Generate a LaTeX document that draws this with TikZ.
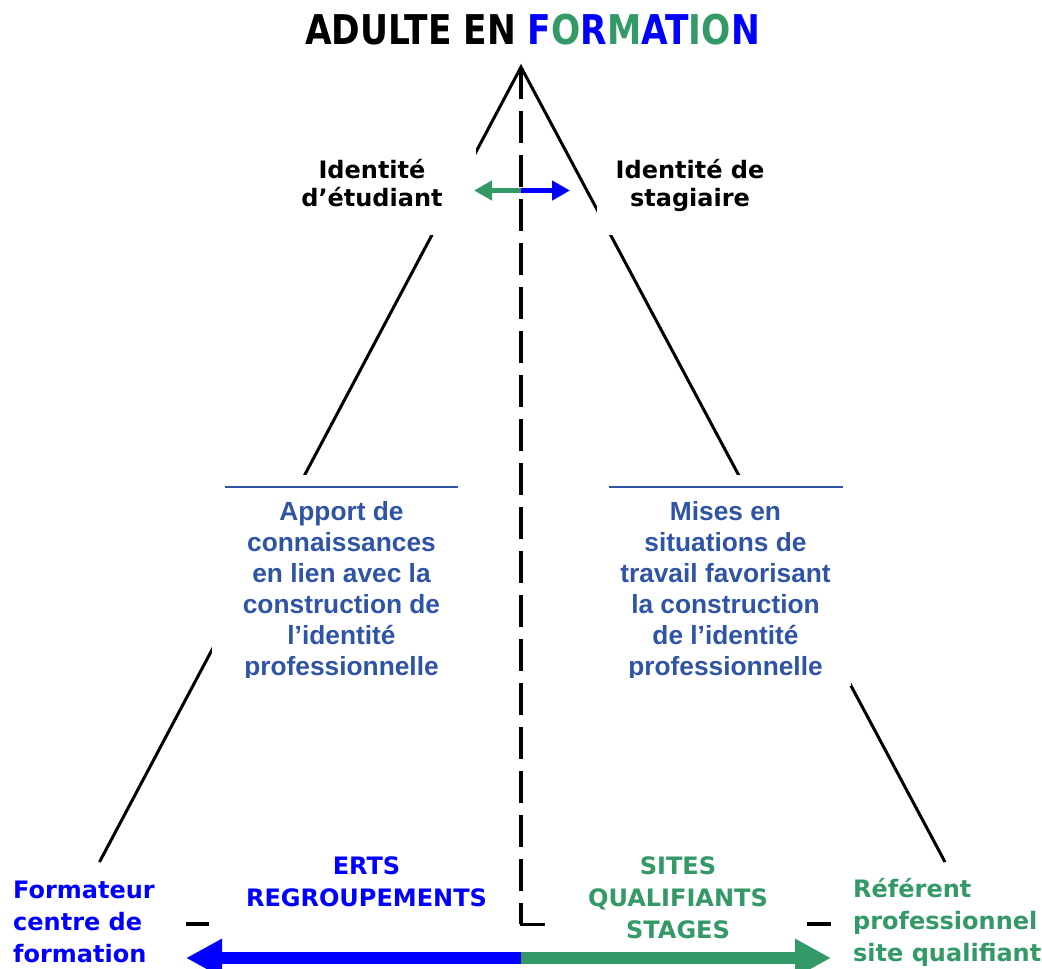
\documentclass[tikz,border=0pt]{standalone}
\usepackage{fontspec}
\setmainfont{DejaVu Sans}
\newfontfamily\verdfont{DejaVu Sans}
\newfontfamily\titlefont[FakeStretch=0.84]{DejaVu Sans}
\newfontfamily\arialfont{Liberation Sans}
\usetikzlibrary{arrows.meta}
\definecolor{cblue}{RGB}{0,0,255}
\definecolor{cgreen}{RGB}{51,153,102}
\definecolor{cbox}{RGB}{47,84,166}
\newcommand\stk[2]{\begin{tabular}[t]{@{}#1@{}}#2\end{tabular}}
\begin{document}
\begin{tikzpicture}[x=1pt,y=-1pt,
  tri/.style={line width=3pt, line join=miter},
  occl/.style={fill=white, draw=none, inner sep=0pt, anchor=north west},
  lbl/.style={inner sep=0pt, anchor=base, font=\verdfont\bfseries\fontsize{24}{28}\selectfont},
  boxtxt/.style={inner sep=0pt, anchor=base, text=cbox, font=\arialfont\bfseries\fontsize{26.3}{31}\selectfont},
  btm/.style={inner sep=0pt, anchor=base, font=\verdfont\bfseries\fontsize{24}{32}\selectfont},
  sep/.style={cbox, line width=2pt},
  dsh/.style={line width=4pt, dash pattern=on 32pt off 12pt},
]
\useasboundingbox (0,0) rectangle (1042,969);
% triangle
\coordinate (apex) at (521,67);
\coordinate (bl) at (99.5,862);
\coordinate (br) at (945,862);
\draw[tri] (bl) -- (apex) -- (br);
% central dashed axis
\coordinate (axend) at (521,924);
\coordinate (axfoot) at (545,924);
\draw[dsh] (apex) -- (axend);
\draw[line width=3pt] (521,903) -- (axend) -- (axfoot);
% occluding white boxes
\node[occl, minimum width=176pt, minimum height=90pt] (occLL) at (300,145) {};
\node[occl, minimum width=183pt, minimum height=90pt] (occRL) at (597,145) {};
\node[occl, minimum width=259pt, minimum height=215pt] (occLB) at (212,475) {};
\node[occl, minimum width=250pt, minimum height=211pt] (occRB) at (601,475) {};
% title
\node[inner sep=0pt, anchor=base, font=\titlefont\bfseries\fontsize{41}{41}\selectfont] (title) at (532.5,45)
  {ADULTE EN \textcolor{cblue}{F}\textcolor{cgreen}{O}\textcolor{cblue}{R}\textcolor{cgreen}{M}\textcolor{cblue}{AT}\textcolor{cgreen}{IO}\textcolor{cblue}{N}};
% identity labels
\node[lbl] (idEt) at (372,178) {\stk{c}{Identité\\d’étudiant}};
\node[lbl] (idSt) at (690,178) {\stk{c}{Identité de\\stagiaire}};
% middle arrow
\coordinate (m) at (521,190.5);
\coordinate (mL) at (474,190.5);
\coordinate (mR) at (570,190.5);
\draw[cgreen, line width=5pt, -{Triangle[length=18pt,width=19pt]}] (m) -- (mL);
\draw[cblue, line width=5pt, -{Triangle[length=18pt,width=19pt]}] (m) -- (mR);
% separators
\draw[sep] (225,487) -- (458,487);
\draw[sep] (609,487) -- (843,487);
% box texts
\begin{scope}
\clip (0,0) rectangle (1042,677);
\node[boxtxt] (apport) at (341.5,520) {\stk{c}{Apport de\\connaissances\\en lien avec la\\construction de\\l’identité\\professionnelle}};
\node[boxtxt] (mises) at (725.5,520) {\stk{c}{Mises en\\situations de\\travail favorisant\\la construction\\de l’identité\\professionnelle}};
\end{scope}
% bottom labels
\node[btm, text=cblue] (erts) at (366.5,874) {\stk{c}{ERTS\\REGROUPEMENTS}};
\node[btm, text=cgreen] (sites) at (678,874) {\stk{c}{SITES\\QUALIFIANTS\\STAGES}};
\node[btm, anchor=base west, text=cblue] (form) at (13,898) {\stk{l}{Formateur\\centre de\\formation}};
\node[btm, anchor=base west, text=cgreen] (ref) at (853,897) {\stk{l}{Référent\\professionnel\\site qualifiant}};
% short dashes
\draw[line width=4pt] (186,924) -- (209,924);
\draw[line width=4pt] (807,924) -- (831,924);
% bottom arrow
\coordinate (b) at (521,958);
\coordinate (bL) at (186,958);
\coordinate (bR) at (831,958);
\draw[cblue, line width=12pt, -{Triangle[length=36pt,width=36pt]}] (b) -- (bL);
\draw[cgreen, line width=12pt, -{Triangle[length=36pt,width=36pt]}] (b) -- (bR);
\end{tikzpicture}
\end{document}
